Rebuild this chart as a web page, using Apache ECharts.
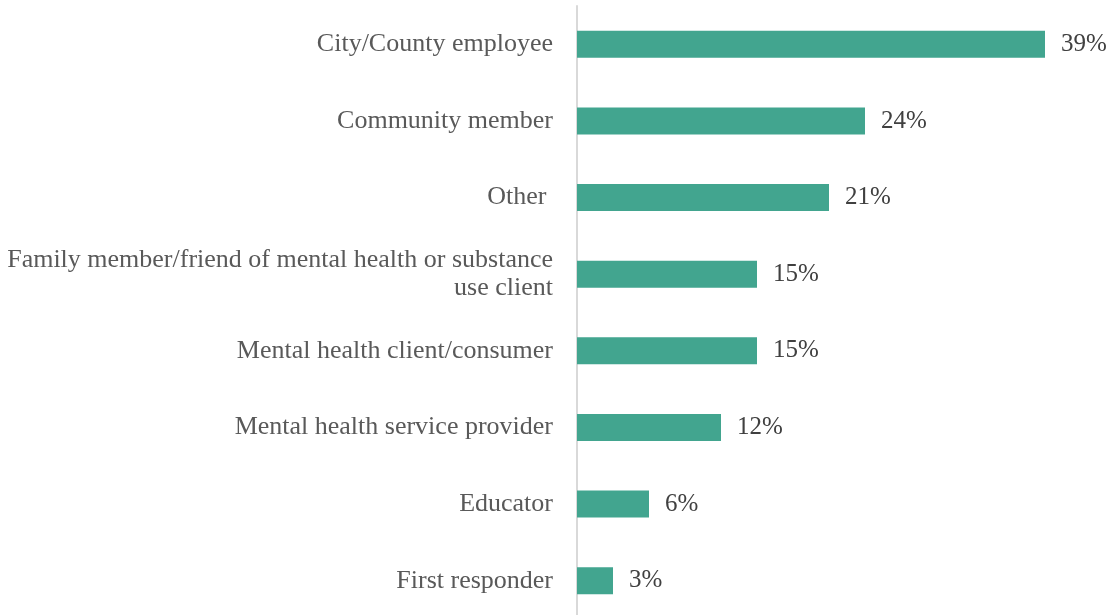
<!DOCTYPE html>
<html>
<head>
<meta charset="utf-8">
<title>Respondent roles</title>
<script src="https://cdn.jsdelivr.net/npm/echarts@6/dist/echarts.min.js"></script>
<style>
  html, body { margin: 0; padding: 0; background: #ffffff; }
  #chart { width: 1111px; height: 615px; }
</style>
</head>
<body>
<div id="chart"></div>
<script>
// Respondent roles, top to bottom
const categories = [
  'City/County employee',
  'Community member',
  'Other ',
  'Family member/friend of mental health or substance\nuse client',
  'Mental health client/consumer',
  'Mental health service provider',
  'Educator',
  'First responder'
];

// Share of respondents (%)
const shares = [39, 24, 21, 15, 15, 12, 6, 3];

const FONT = '"Liberation Serif", "DejaVu Serif", serif';

const chart = echarts.init(document.getElementById('chart'), null, { renderer: 'canvas' });

chart.setOption({
  animation: false,
  backgroundColor: '#ffffff',
  grid: {
    left: 577,
    right: 54,
    top: 6,
    height: 613,
    containLabel: false,
    outerBoundsMode: 'none'
  },
  xAxis: {
    type: 'value',
    min: 0,
    max: 40,
    show: false,
    splitLine: { show: false }
  },
  yAxis: {
    type: 'category',
    inverse: true,
    data: categories,
    axisTick: { show: false },
    axisLine: { show: true, lineStyle: { color: '#d9d9d9', width: 2 } },
    axisLabel: {
      margin: 24,
      color: '#595959',
      fontFamily: FONT,
      fontSize: 26,
      lineHeight: 28,
      align: 'right',
      padding: [3, 0, 0, 0]
    },
    splitLine: { show: false }
  },
  series: [{
    type: 'bar',
    data: shares,
    barWidth: 27,
    itemStyle: { color: '#42a58f' },
    label: {
      show: true,
      position: 'right',
      distance: 16,
      formatter: '{c}%',
      color: '#404040',
      fontFamily: FONT,
      fontSize: 25,
      padding: [3, 0, 0, 0]
    }
  }]
});
</script>
</body>
</html>
